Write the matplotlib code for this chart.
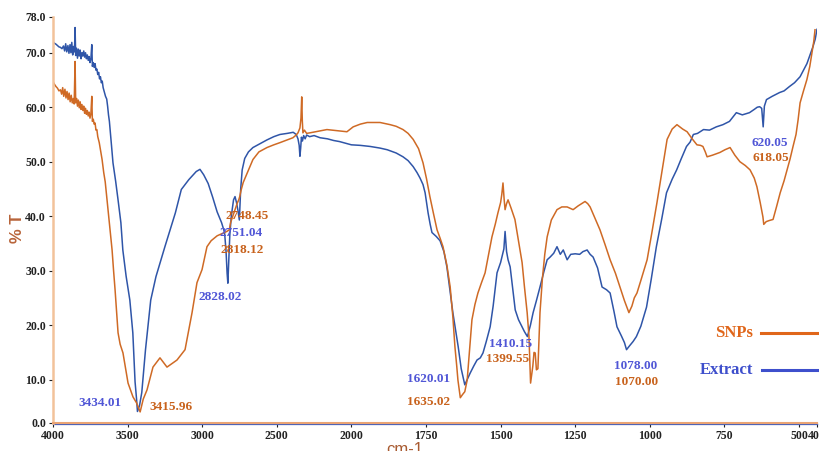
import numpy as np
import matplotlib
matplotlib.use("Agg")
import matplotlib.pyplot as plt
from matplotlib.lines import Line2D

# FTIR spectra: wavenumber (cm-1) and transmittance (%T)
extract_wn = [
    4000, 3990, 3980, 3970, 3960, 3950, 3940, 3930, 3922, 3915, 3908, 3900, 3893, 3886,
    3880, 3874, 3868, 3862, 3856, 3852, 3848, 3842, 3836, 3830, 3824, 3818, 3812, 3806,
    3800, 3794, 3788, 3782, 3776, 3770, 3764, 3758, 3752, 3746, 3740, 3736, 3730, 3724,
    3718, 3712, 3706, 3700, 3694, 3688, 3682, 3676, 3670, 3664, 3656, 3648, 3640, 3634,
    3628, 3622, 3616, 3608, 3598, 3580, 3564, 3545, 3532, 3510, 3485, 3465, 3450, 3440,
    3434.01, 3420, 3405, 3380, 3345, 3310, 3250, 3180, 3140, 3090, 3040, 3015, 2990,
    2960, 2930, 2900, 2870, 2850, 2840, 2833, 2828.02, 2823, 2815, 2805, 2790, 2780,
    2770, 2760, 2751.04, 2742, 2732, 2715, 2690, 2660, 2620, 2566, 2520, 2479, 2430,
    2390, 2370, 2358, 2350, 2345, 2340, 2335, 2328, 2320, 2310, 2300, 2280, 2250, 2210,
    2160, 2120, 2080, 2040, 2000, 1970, 1937, 1904, 1880, 1850, 1827, 1810, 1793, 1780,
    1770, 1760, 1753, 1748, 1743, 1736, 1730, 1716, 1703, 1690, 1680, 1670, 1660, 1650,
    1642, 1632, 1620.01, 1612, 1602, 1590, 1579, 1568, 1559, 1548, 1535, 1525, 1512,
    1500, 1495, 1489, 1485, 1480, 1475, 1468, 1460, 1451, 1440, 1428, 1420, 1410.15,
    1400, 1391, 1380, 1368, 1355, 1344, 1334, 1322, 1311, 1300, 1290, 1277, 1265, 1250,
    1235, 1224, 1210, 1200, 1190, 1175, 1160, 1145, 1133, 1120, 1110, 1095, 1085,
    1078.00, 1068, 1056, 1045, 1030, 1011, 995, 978, 960, 944, 925, 910, 895, 877, 865,
    854, 840, 820, 800, 777, 755, 733, 720, 710, 690, 666, 650, 640, 632, 625, 620.05,
    616, 609, 590, 565, 550, 532, 515, 494, 475, 456, 440, 422, 410, 400,
]
extract_t = [
    72.4, 72.1, 71.9, 71.6, 71.3, 71.2, 70.9, 71.5, 70.4, 72.0, 70.2, 71.6, 69.9, 71.8,
    70.0, 72.3, 69.6, 71.4, 70.2, 75.6, 69.5, 71.0, 69.0, 70.8, 69.4, 70.6, 68.9, 70.0,
    69.4, 70.4, 69.2, 70.0, 68.9, 69.6, 68.6, 69.3, 68.2, 68.9, 71.8, 67.5, 68.2, 67.3,
    68.0, 66.8, 67.0, 66.0, 66.4, 65.2, 65.6, 64.5, 64.8, 63.6, 62.8, 62.0, 61.5, 60.2,
    58.6, 57.4, 55.6, 53.0, 49.8, 46.4, 43.0, 38.8, 33.8, 29.0, 24.6, 18.6, 9.5, 5.5,
    2.6, 4.0, 7.0, 15.5, 24.6, 28.9, 34.4, 40.6, 44.9, 46.7, 48.2, 48.6, 47.6,
    46.0, 43.5, 40.8, 38.8, 37.0, 33.5, 29.5, 27.7, 31.0, 36.5, 40.0, 43.0, 43.6,
    42.5, 41.0, 39.3, 45.0, 48.5, 50.6, 51.8, 52.6, 53.2, 54.0, 54.6, 55.0, 55.2,
    55.4, 55.0, 54.2, 53.0, 51.0, 52.5, 54.5, 53.8, 54.8, 54.2, 54.9, 54.6, 54.8, 54.4,
    54.2, 53.9, 53.7, 53.4, 53.1, 53.0, 52.8, 52.5, 52.2, 51.6, 50.9, 50.2, 49.1, 48.0,
    47.0, 45.8, 44.3, 42.5, 40.6, 38.5, 37.0, 36.3, 35.5, 33.5, 30.7, 26.5, 22.3, 18.8,
    16.0, 12.0, 8.8, 10.0, 11.2, 12.5, 13.6, 14.0, 14.9, 17.0, 19.7, 23.5, 29.6,
    31.5, 32.6, 34.0, 37.2, 33.5, 32.0, 30.7, 27.0, 22.8, 21.0, 19.7, 18.8, 17.9,
    20.0, 22.3, 24.5, 27.0, 29.8, 32.0, 32.5, 33.2, 34.4, 33.0, 33.8, 32.0, 33.0, 33.1,
    33.0, 33.5, 33.8, 33.0, 32.5, 30.5, 27.0, 26.5, 25.9, 22.5, 19.7, 18.0, 16.8,
    15.5, 16.2, 17.0, 17.9, 19.8, 23.3, 28.5, 34.4, 39.5, 44.3, 46.8, 48.5, 50.5, 52.8, 53.6,
    55.0, 55.2, 55.9, 55.8, 56.4, 56.8, 57.4, 58.3, 59.0, 58.6, 59.0, 59.6, 60.0, 60.1, 59.8, 56.4,
    60.2, 61.4, 62.0, 62.7, 63.0, 63.8, 64.5, 65.6, 66.8, 68.0, 69.5, 71.4, 73.0, 75.2,
]

snps_wn = [
    4000, 3990, 3980, 3970, 3960, 3950, 3942, 3935, 3928, 3920, 3913, 3906, 3899, 3892,
    3885, 3878, 3871, 3864, 3858, 3852, 3848, 3842, 3836, 3830, 3824, 3818, 3812, 3806,
    3800, 3794, 3788, 3782, 3776, 3770, 3764, 3758, 3752, 3746, 3740, 3736, 3730, 3724,
    3718, 3712, 3706, 3700, 3690, 3680, 3671, 3660, 3650, 3638, 3625, 3615, 3604, 3594,
    3584, 3574, 3564, 3550, 3531, 3497, 3464, 3440, 3415.96, 3395, 3370, 3330, 3283,
    3236, 3169, 3115, 3068, 3035, 3001, 2968, 2940, 2900, 2860, 2835, 2818.12, 2810,
    2795, 2780, 2765, 2755, 2748.45, 2740, 2725, 2700, 2660, 2620, 2566, 2520, 2479,
    2430, 2392, 2370, 2358, 2345, 2338, 2333, 2329, 2325, 2315, 2300, 2278, 2220, 2164,
    2100, 2030, 1994, 1970, 1947, 1904, 1870, 1850, 1827, 1810, 1793, 1775, 1760, 1748,
    1737, 1725, 1713, 1703, 1693, 1680, 1669, 1660, 1653, 1647, 1643, 1635.02, 1628,
    1620, 1612, 1604, 1596, 1586, 1576, 1564, 1552, 1540, 1529, 1518, 1509, 1500, 1496,
    1492, 1488, 1485, 1480, 1475, 1465, 1452, 1440, 1428, 1420, 1411, 1405, 1399.55,
    1392, 1388, 1384, 1380, 1375, 1368, 1360, 1352, 1344, 1330, 1311, 1295, 1277, 1257,
    1240, 1217, 1208, 1200, 1185, 1167, 1150, 1133, 1115, 1100, 1085, 1070.00, 1060,
    1052, 1043, 1030, 1009, 993, 976, 960, 942, 925, 909, 890, 875, 858, 842, 830, 822,
    814, 808, 790, 765, 748, 731, 715, 698, 680, 664, 650, 641, 630, 621, 618.05, 610,
    600, 587, 575, 563, 550, 540, 530, 520, 510, 503, 494, 475, 456, 440, 428, 418, 411,
]
snps_t = [
    64.7, 64.2, 63.8, 63.5, 63.0, 63.2, 62.4, 63.6, 62.0, 63.3, 61.7, 62.9, 61.4, 62.6,
    61.0, 62.2, 60.8, 61.6, 60.6, 68.4, 60.8, 61.6, 60.2, 61.3, 59.9, 61.0, 59.6, 60.5,
    59.4, 60.2, 58.9, 59.8, 58.7, 59.4, 58.4, 59.1, 58.0, 58.8, 62.0, 57.4, 57.8, 56.9,
    57.1, 55.8, 55.9, 54.6, 53.5, 51.9, 50.4, 48.0, 46.3, 43.0, 39.5, 36.5, 33.8, 30.0,
    26.5, 22.5, 18.6, 16.5, 14.9, 9.2, 6.0, 4.6, 2.5, 5.5, 7.6, 12.3, 14.0,
    12.3, 13.6, 15.5, 22.3, 27.8, 30.2, 34.4, 35.5, 36.4, 36.9, 37.2, 37.5, 38.8,
    40.0, 41.2, 42.4, 43.0, 43.6, 44.7, 46.2, 47.8, 50.4, 51.8, 52.6, 53.1, 53.5,
    54.0, 54.4, 54.9, 55.3, 56.2, 58.0, 61.9, 57.5, 55.3, 55.8, 55.2, 55.3, 55.6, 55.9,
    55.7, 55.5, 56.4, 56.9, 57.2, 57.2, 56.8, 56.5, 55.9, 55.2, 54.1, 52.4, 49.8, 46.8,
    43.6, 40.5, 37.5, 36.0, 34.4, 31.0, 27.0, 21.5, 16.0, 12.5, 9.9, 5.8, 6.5,
    7.2, 9.9, 15.5, 21.0, 23.8, 25.9, 27.8, 29.6, 33.0, 36.2, 38.5, 40.6, 42.5, 44.0,
    46.1, 43.0, 41.2, 42.3, 43.0, 41.5, 39.4, 35.5, 31.5, 27.0, 22.3, 18.0, 9.2,
    12.5, 15.0, 14.9, 11.8, 12.0, 22.3, 28.5, 33.0, 36.2, 39.3, 41.2, 41.7, 41.7, 41.2,
    41.9, 42.7, 42.3, 41.7, 39.8, 37.5, 34.8, 32.0, 29.5, 27.0, 24.5, 22.3, 23.5,
    25.0, 25.9, 28.2, 32.0, 37.0, 42.5, 48.0, 54.1, 56.0, 56.8, 56.0, 55.5, 54.2, 53.1, 53.0, 52.8,
    51.8, 50.9, 51.2, 51.7, 52.2, 52.6, 51.2, 50.0, 49.3, 48.5, 47.0, 45.4, 42.5, 39.9, 38.5, 39.0,
    39.2, 39.4, 41.8, 44.3, 46.5, 48.5, 50.5, 52.8, 55.0, 57.7, 60.8, 63.0, 65.1, 67.5, 70.0, 72.5, 75.1,
]

extract_peaks = ["3434.01", "2828.02", "2751.04", "1620.01", "1410.15", "1078.00", "620.05"]
snps_peaks = ["3415.96", "2818.12", "2748.45", "1635.02", "1399.55", "1070.00", "618.05"]

x_ticks = [4000, 3500, 3000, 2500, 2000, 1750, 1500, 1250, 1000, 750, 500, 400]
y_ticks = [0, 10, 20, 30, 40, 50, 60, 70, 78]

EXTRACT_COLOR = "#2f55a8"
SNPS_COLOR = "#cf6a25"
EXTRACT_TEXT = "#5056d6"
SNPS_TEXT = "#c8621c"

# instrument style axes: 2x expansion below 2000 cm-1, uneven end segments
X_BREAKS = [400, 500, 2000, 4000]
X_UNITS = [0, 18, 465.6, 764]
Y_BREAKS = [0, 10, 70, 78]
Y_UNITS = [0, 43, 369.4, 405.4]


def x_fwd(x):
    return np.interp(x, X_BREAKS, X_UNITS)


def x_inv(u):
    return np.interp(u, X_UNITS, X_BREAKS)


def y_fwd(y):
    return np.interp(y, Y_BREAKS, Y_UNITS)


def y_inv(u):
    return np.interp(u, Y_UNITS, Y_BREAKS)


plt.rcParams['font.family'] = ['Liberation Serif', 'DejaVu Serif']

fig = plt.figure(figsize=(8.2, 4.51), dpi=100)
ax = fig.add_axes([53 / 820, 28.3 / 451, 764 / 820, 406 / 451])
ax.set_xscale('function', functions=(x_fwd, x_inv))
ax.set_yscale('function', functions=(y_fwd, y_inv))

ax.plot(extract_wn, extract_t, color=EXTRACT_COLOR, lw=1.1)
ax.plot(snps_wn, snps_t, color=SNPS_COLOR, lw=1.1)

ax.set_xlim(4000, 400)
ax.set_ylim(0, 78)
ax.set_xticks(x_ticks)
ax.set_xticklabels([str(t) for t in x_ticks])
ax.set_yticks(y_ticks)
ax.set_yticklabels([f"{t:.1f}" for t in y_ticks])
ax.minorticks_off()
ax.tick_params(axis='both', labelsize=8.5, colors='#222222', length=3, width=0.8, pad=2)
for lbl in ax.get_xticklabels() + ax.get_yticklabels():
    lbl.set_fontweight('bold')

for side in ['top', 'right']:
    ax.spines[side].set_visible(False)
ax.spines['left'].set_color('#f2c29a')
ax.spines['left'].set_linewidth(1.8)
ax.spines['bottom'].set_color('#eaa474')
ax.spines['bottom'].set_linewidth(1.5)
ax.plot([0, 1], [-0.004, -0.004], transform=ax.transAxes, clip_on=False,
        color='#4a62b8', lw=0.9)

# peak labels (wavenumber, %T positions of the text)
extract_pos = [(3685, 4.6), (2881, 25.2), (2740, 37.0), (1743, 10.1),
               (1465, 16.6), (1046, 12.5), (597, 53.5)]
snps_pos = [(3209, 3.7), (2733, 33.8), (2700, 40.1), (1740, 4.8),
            (1478, 13.8), (1046, 9.5), (594, 50.6)]
for txt, (x, y) in zip(extract_peaks, extract_pos):
    ax.text(x, y, txt, color=EXTRACT_TEXT, fontsize=9.5, fontweight='bold',
            ha='center', va='center')
for txt, (x, y) in zip(snps_peaks, snps_pos):
    ax.text(x, y, txt, color=SNPS_TEXT, fontsize=9.5, fontweight='bold',
            ha='center', va='center')

fig.text(18 / 820, 1 - 228 / 451, "% T", rotation=90, color='#b8643a',
         fontsize=12, fontweight='bold', family='Liberation Sans',
         ha='center', va='center')
fig.text(405 / 820, 1 - 449 / 451, "cm-1", color='#a85a30', fontsize=12,
         family='Liberation Sans', ha='center', va='center')

# legend: label text on the left, sample line running off to the right
fig.text(753 / 820, 1 - 333 / 451, "SNPs", color='#e0661a', fontsize=12,
         fontweight='bold', ha='right', va='center')
fig.text(753 / 820, 1 - 370 / 451, "Extract", color='#3e4fcc', fontsize=12,
         fontweight='bold', ha='right', va='center')
fig.add_artist(Line2D([761 / 820, 1.0], [1 - 333 / 451] * 2, color='#e0661a', lw=2.2))
fig.add_artist(Line2D([762 / 820, 1.0], [1 - 370 / 451] * 2, color='#3e4fcc', lw=2.2))

fig.savefig("out.png", dpi=100)
